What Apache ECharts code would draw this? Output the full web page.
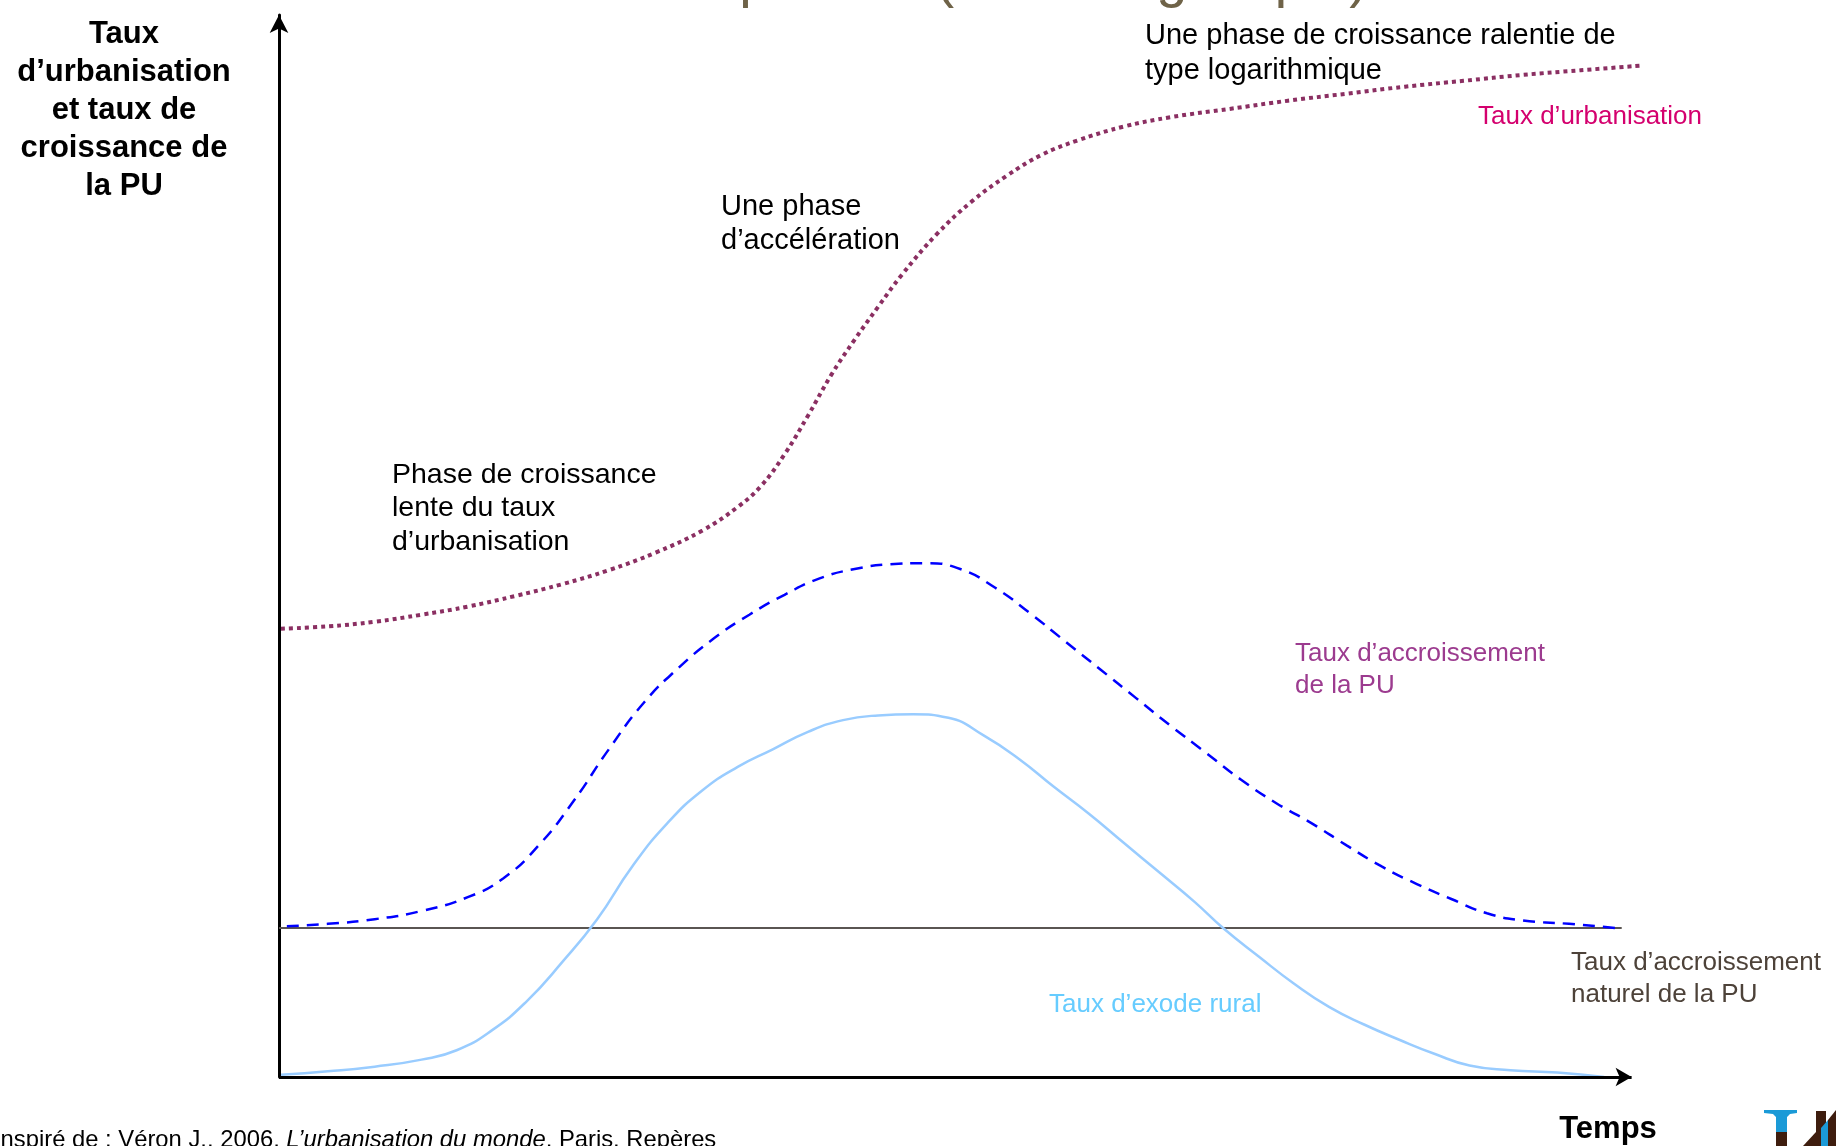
<!DOCTYPE html>
<html>
<head>
<meta charset="utf-8">
<script src="https://cdn.jsdelivr.net/npm/echarts@6/dist/echarts.min.js"></script>
<style>
html,body{margin:0;padding:0;background:#fff;}
#chart{width:1836px;height:1146px;}
</style>
</head>
<body>
<div id="chart"></div>
<script>
// ---- data (arbitrary units: time 0..~100, rate 0..~100) ----
const urbX = [0.15, 3.61, 7.07, 10.53, 13.99, 17.45, 20.90, 24.36, 27.82, 31.28, 33.88, 35.61, 37.34, 39.07, 40.80, 42.52, 44.25, 45.98, 48.58, 51.17, 53.77, 56.36, 58.96, 62.41, 65.87, 70.20, 74.52, 78.85, 83.17, 87.49, 91.82, 96.14, 100.64];
const urbY = [42.09, 42.31, 42.75, 43.41, 44.18, 45.17, 46.27, 47.59, 49.24, 51.32, 53.52, 55.50, 58.47, 62.10, 65.95, 69.24, 72.32, 75.29, 79.14, 82.22, 84.64, 86.61, 87.93, 89.25, 90.13, 90.90, 91.67, 92.33, 92.99, 93.54, 94.09, 94.53, 94.97];

const accX = [0.58, 3.61, 7.07, 10.53, 13.99, 16.58, 19.18, 21.77, 24.36, 26.96, 29.55, 32.15, 34.74, 37.34, 39.93, 42.52, 45.12, 47.71, 50.31, 52.90, 55.50, 58.09, 60.69, 63.28, 65.87, 68.47, 71.06, 73.66, 76.25, 78.85, 81.44, 84.04, 86.63, 89.22, 91.82, 95.28, 99.17];
const accY = [14.16, 14.38, 14.82, 15.59, 16.91, 18.67, 21.75, 25.93, 30.77, 35.16, 38.46, 41.21, 43.41, 45.28, 46.82, 47.70, 48.14, 48.25, 47.70, 45.94, 43.52, 40.88, 38.24, 35.60, 32.96, 30.44, 27.91, 25.71, 23.84, 21.75, 19.77, 18.12, 16.69, 15.37, 14.71, 14.38, 13.94];

const exoX = [0.15, 3.61, 7.07, 10.53, 13.12, 15.72, 18.31, 20.90, 23.50, 26.09, 28.69, 31.28, 33.88, 36.47, 39.07, 41.66, 44.25, 46.85, 49.44, 52.04, 54.63, 57.23, 59.82, 62.41, 65.01, 67.60, 69.77, 72.36, 74.95, 77.55, 80.14, 82.74, 85.33, 87.93, 90.95, 94.41, 97.87];
const exoY = [0.20, 0.53, 0.97, 1.63, 2.51, 4.38, 7.13, 10.76, 14.82, 19.77, 23.84, 26.92, 29.12, 30.77, 32.41, 33.51, 33.95, 34.06, 33.73, 32.08, 29.89, 27.25, 24.72, 21.97, 19.22, 16.47, 13.94, 11.31, 8.78, 6.58, 4.93, 3.50, 2.18, 1.08, 0.64, 0.42, 0.0];

const natX = [0, 99.17];
const natY = [14, 14];

// extent of the time axis arrow (axis units)
const timeAxisEnd = 99.9;

const pairs = (xs, ys) => xs.map((x, i) => [x, ys[i]]);

const FONT = "'Liberation Sans', Arial, sans-serif";

const chart = echarts.init(document.getElementById('chart'), null, {renderer: 'canvas'});

function txt(x, y, text, size, color, opts) {
  opts = opts || {};
  return {
    type: 'text', z: 100,
    style: Object.assign({
      x: x, y: y, text: text,
      font: (opts.weight || 'normal') + ' ' + size + 'px ' + FONT,
      fill: color,
      textAlign: opts.align || 'left',
      textVerticalAlign: opts.valign || 'top',
      lineHeight: opts.lh || Math.round(size * 1.2)
    }, opts.extra || {})
  };
}

const option = {
  backgroundColor: '#ffffff',
  animation: false,
  grid: {left: 279, right: 191, top: 15, bottom: 69, containLabel: false},
  xAxis: {
    type: 'value', min: 0, max: 100.89,
    axisLine: {show: false},
    axisTick: {show: false}, axisLabel: {show: false}, splitLine: {show: false}
  },
  yAxis: {
    type: 'value', min: 0, max: 99.72,
    axisLine: {show: true, lineStyle: {color: '#000', width: 3}, symbol: ['none', 'arrow'], symbolSize: [14, 18]},
    axisTick: {show: false}, axisLabel: {show: false}, splitLine: {show: false}
  },
  series: [
    {
      name: 'Taux d’accroissement naturel de la PU', type: 'line', data: pairs(natX, natY),
      showSymbol: false, lineStyle: {color: '#5a5552', width: 2}, z: 1,
      markLine: {
        silent: true, symbol: ['none', 'arrow'], symbolSize: [14, 16],
        lineStyle: {color: '#000', width: 3, type: 'solid'},
        label: {show: false},
        data: [[{coord: [0, 0]}, {coord: [timeAxisEnd, 0]}]]
      }
    },
    {
      name: 'Taux d’exode rural', type: 'line', data: pairs(exoX, exoY), smooth: 0.5,
      showSymbol: false, lineStyle: {color: '#99ccff', width: 2.5}, z: 2
    },
    {
      name: 'Taux d’accroissement de la PU', type: 'line', data: pairs(accX, accY), smooth: 0.5,
      showSymbol: false, lineStyle: {color: '#0000ff', width: 2.5, type: [12, 8]}, z: 3
    },
    {
      name: 'Taux d’urbanisation', type: 'line', data: pairs(urbX, urbY), smooth: 0.4,
      showSymbol: false, lineStyle: {color: '#8b2f62', width: 4, type: [4, 4], cap: 'butt'}, z: 4
    }
  ],
  graphic: [
    // clipped title at top
    txt(1368, -19, 'La transition urbaine : trois phases (forme logistique)', 56, '#6f6348', {align: 'right', valign: 'middle', lh: 64}),
    // y axis title
    txt(124, 15, 'Taux\nd’urbanisation\net taux de\ncroissance de\nla PU', 31, '#000', {align: 'center', weight: 'bold', lh: 38}),
    txt(1145, 18, 'Une phase de croissance ralentie de\ntype logarithmique', 29, '#000', {lh: 35}),
    txt(1478, 117, 'Taux d’urbanisation', 26, '#d4006e', {valign: 'middle'}),
    txt(721, 190, 'Une phase\nd’accélération', 29, '#000', {lh: 34}),
    txt(392, 458, 'Phase de croissance\nlente du taux\nd’urbanisation', 28.5, '#000', {lh: 33.5}),
    txt(1295, 638, 'Taux d’accroissement\nde la PU', 26, '#9c3b8f', {lh: 32}),
    txt(1049, 1005, 'Taux d’exode rural', 26, '#66ccff', {valign: 'middle'}),
    txt(1571, 947, 'Taux d’accroissement\nnaturel de la PU', 26, '#4d4239', {lh: 32}),
    txt(1608, 1129, 'Temps', 31, '#000', {align: 'center', valign: 'middle', weight: 'bold'}),
    {
      type: 'text', z: 100,
      style: {
        x: -6, y: 1140,
        text: '{n|Inspiré de : Véron J., 2006, }{i|L’urbanisation du monde}{n|, Paris, Repères}',
        textVerticalAlign: 'middle', textAlign: 'left',
        rich: {
          n: {font: 'normal 23.8px ' + FONT, fill: '#000', color: '#000'},
          i: {font: 'italic 23.8px ' + FONT, fill: '#000', color: '#000', fontStyle: 'italic'}
        }
      }
    },
    // logo fragment (bottom right)
    {type: 'polygon', z: 100, shape: {points: [[1764,1110],[1797,1110],[1797,1113],[1790,1114],[1787,1117],[1787,1132],[1776,1132],[1776,1117],[1773,1114],[1764,1113]]}, style: {fill: '#1b9ad7'}},
    {type: 'rect', z: 100, shape: {x: 1776, y: 1132, width: 11, height: 14}, style: {fill: '#3e1d0e'}},
    {type: 'rect', z: 100, shape: {x: 1816, y: 1111, width: 10, height: 35}, style: {fill: '#3e1d0e'}},
    {type: 'polygon', z: 101, shape: {points: [[1803,1146],[1816,1132],[1816,1146]]}, style: {fill: '#3e1d0e'}},
    {type: 'polygon', z: 101, shape: {points: [[1821,1146],[1828,1146],[1828,1120],[1821,1128]]}, style: {fill: '#1b9ad7'}},
    {type: 'polygon', z: 101, shape: {points: [[1828,1120],[1836,1110],[1836,1146],[1828,1146]]}, style: {fill: '#3e1d0e'}}
  ]
};

chart.setOption(option);
</script>
</body>
</html>
